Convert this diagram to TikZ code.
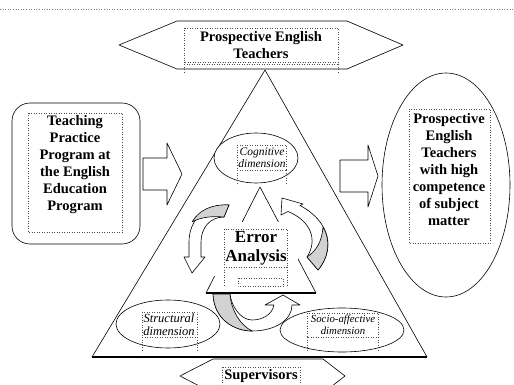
\documentclass[tikz,border=0pt]{standalone}
\usepackage{fontspec}
\setmainfont{Liberation Serif}

\begin{document}
\begin{tikzpicture}[x=1pt,y=-1pt,line join=round,line width=0.6pt,
  main text/.style={font=\bfseries\fontsize{14.5}{17}\selectfont,align=center},
  error text/.style={font=\bfseries\fontsize{17}{19}\selectfont,align=center},
  dim text/.style={font=\itshape\fontsize{11.5}{12.5}\selectfont,align=center},
  text frame/.style={draw=black!70,dotted,line width=0.5pt},
  curved arrow/.style={draw,fill=white},
  twist/.style={draw,fill=gray!35}]

  \useasboundingbox (0,0) rectangle (514,385);
  \draw[dotted,gray] (0,9) -- (514,9);

  % big triangle and the inner one
  \draw (265,70) -- (92,357) -- (427,357) -- cycle;
  \draw[line width=1.3pt] (92,357) -- (427,357);
  \draw (260,187) -- (206,293) -- (316,293) -- cycle;
  \draw[line width=1.1pt] (206,293) -- (316,293);
  \fill[white] (212,222) rectangle (298,276);

  % hexagons
  \draw[fill=white] (119,45) -- (177,21) -- (347,21) -- (403,45) -- (347,69) -- (177,69) -- cycle;
  \draw[fill=white] (180,376) -- (213,359) -- (323,359) -- (345,376) -- (323,393) -- (213,393) -- cycle;

  % side boxes and block arrows
  \draw[rounded corners=18pt] (12,103) rectangle (140,244);
  \draw (143,158) -- (167,158) -- (167,143) -- (182,174) -- (167,205) -- (167,190) -- (143,190) -- cycle;
  \draw (340,160) -- (368,160) -- (368,145) -- (378,176) -- (368,207) -- (368,192) -- (340,192) -- cycle;
  \draw (446,185) ellipse [x radius=64,y radius=112];

  % dimensions
  \draw[fill=white] (256,158) ellipse [x radius=42,y radius=25];
  \draw[fill=white] (168,324) ellipse [x radius=52,y radius=24];
  \draw[fill=white] (342,330) ellipse [x radius=62,y radius=22];

  % curved arrows
  \draw[curved arrow] (229,205) .. controls (205,204) and (189,220) .. (189,242) -- (189,257) -- (184,257)
    -- (192,273) -- (205,257) -- (201,257) -- (201,242) .. controls (201,228) and (210,217) .. (224,217) -- cycle;
  \draw[twist] (229,205) .. controls (212,204) and (199,210) .. (192,222)
    .. controls (201,217) and (212,216) .. (224,217) -- cycle;
  \draw[curved arrow] (318,270) .. controls (335,250) and (331,222) .. (300,205.5) -- (303,204) -- (282,198)
    -- (281,215) -- (288,211.5) .. controls (311,221) and (318,240) .. (307,257) -- cycle;
  \draw[twist] (307,257) -- (318,270) .. controls (329,257) and (331,240) .. (323,227)
    .. controls (322,242) and (316,251) .. (307,257) -- cycle;
  \draw[curved arrow] (213,294) .. controls (214,320) and (235,331) .. (252,331)
    .. controls (275,331) and (292,320) .. (292,305) -- (300,305) -- (283,295) -- (265,305) -- (274,305)
    .. controls (272,315) and (262,320) .. (252,320) .. controls (240,320) and (231,305) .. (230,294) -- cycle;
  \draw[twist] (213,294) .. controls (214,320) and (235,331) .. (252,331)
    .. controls (240,325) and (231,310) .. (230,294) -- cycle;

  % text frames
  \draw[text frame] (184,28) rectangle (338,62) (184,64) -- (338,64) (184,62) -- (184,74) (338,62) -- (338,74);
  \draw[text frame] (28,113) rectangle (122,232);
  \draw[text frame] (409,109) rectangle (490,243);
  \draw[text frame] (237,145) rectangle (286,170) (237,170) -- (237,185) (286,170) -- (286,185);
  \draw[text frame] (224,229) rectangle (287,267) (224,267) -- (224,286) (287,267) -- (287,286);
  \draw[text frame] (238,278) rectangle (283,286);
  \draw[text frame] (142,312) rectangle (197,337) (142,337) -- (142,352) (197,337) -- (197,352);
  \draw[text frame] (307,313) rectangle (378,337) (307,337) -- (307,352) (378,337) -- (378,352);
  \draw[text frame] (222,367) rectangle (300,392);

  \node[main text] (teachers) at (261,45) {Prospective English\\Teachers};
  \node[main text] (program) at (75,165) {Teaching\\Practice\\Program at\\the English\\Education\\Program};
  \node[main text] (outcome) at (449,170) {Prospective\\English\\Teachers\\with high\\competence\\of subject\\matter};
  \node[dim text] (cognitive) at (262,158) {Cognitive\\dimension};
  \node[error text] (error) at (256,248) {Error\\Analysis};
  \node[dim text,font=\itshape\fontsize{12.5}{13}\selectfont] (structural) at (169,325) {Structural\\dimension};
  \node[dim text,font=\itshape\fontsize{10.8}{12.5}\selectfont] (socio) at (343,325) {Socio-affective\\dimension};
  \node[main text] (supervisors) at (261,376) {Supervisors};
\end{tikzpicture}
\end{document}
